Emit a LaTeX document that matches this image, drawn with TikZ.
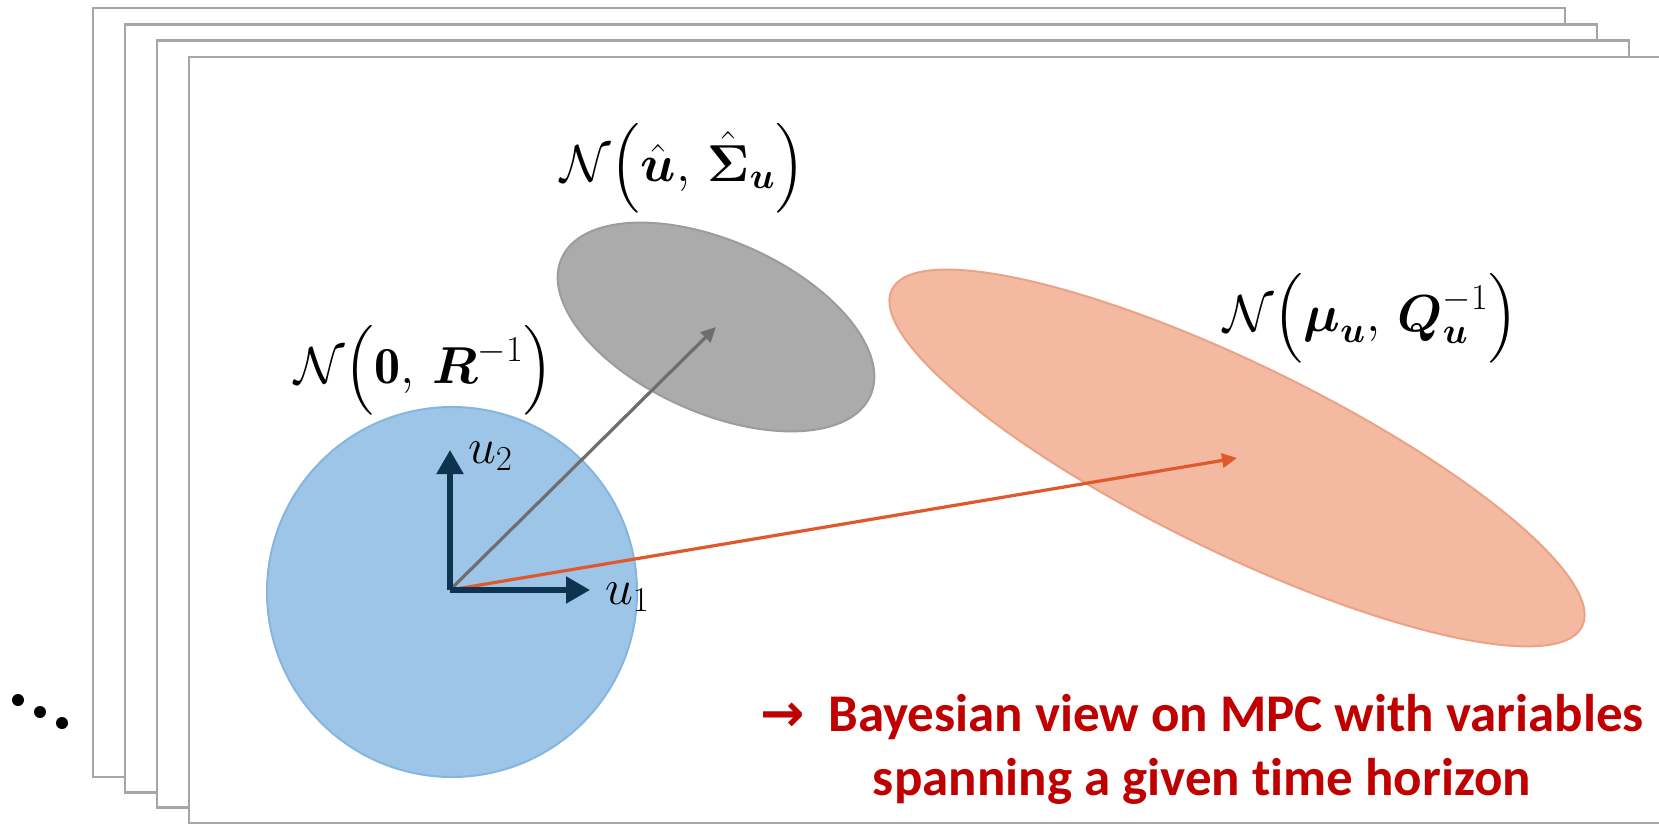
\RequirePackage{fix-cm}
\documentclass[tikz,border=0pt]{standalone}
\usepackage{amsmath}
\usepackage{fontspec}
\setsansfont{Carlito}[Ligatures=NoCommon]
\newfontfamily\arrowfont{DejaVu Sans}
\usetikzlibrary{arrows.meta}
\definecolor{cframe}{HTML}{A6A6A6}
\definecolor{cblue}{HTML}{9DC5E7}
\definecolor{cblueedge}{HTML}{86B6DE}
\definecolor{cgrey}{HTML}{ABABAB}
\definecolor{cgreyedge}{HTML}{9C9C9C}
\definecolor{corange}{HTML}{F3B9A1}
\definecolor{corangeedge}{HTML}{EAA386}
\definecolor{cnavy}{HTML}{0E3350}
\definecolor{cred}{HTML}{C00000}
\definecolor{cdarkgrey}{HTML}{6E6E6E}
\definecolor{cdarkorange}{HTML}{E0592C}
\tikzset{
  slide/.style={draw=cframe, fill=white, line width=1.3pt},
  axis/.style={-{Triangle[length=12pt, width=13pt]}, draw=cnavy, line width=2.6pt},
  meanarrow/.style={-{Triangle[length=7.5pt, width=7pt]}, draw=#1, line width=1.6pt},
  dist/.style={font=\fontsize{26}{30}\selectfont},
  axislabel/.style={font=\fontsize{25}{30}\selectfont, anchor=west},
  takeaway/.style={font=\fontsize{26.5}{32}\selectfont\sffamily\bfseries, text=cred, align=center},
}

\begin{document}
\begin{tikzpicture}[x=0.5pt, y=-0.5pt]
  \useasboundingbox (0,0) rectangle (1659,824);
  \clip (0,0) rectangle (1659,824);
  \foreach \i in {0,...,3}
    \draw[slide] ({93+32*\i},{8+16.3*\i}) rectangle ({1565+32*\i},{777+15.3*\i});
  \foreach \x/\y in {18/700, 40/712, 62/723}
    \fill (\x,\y) circle (6);

  \coordinate (o) at (450,590);
  \coordinate (uhat) at (716,327);
  \coordinate (mu) at (1237,458);
  \coordinate (e1) at (590,590);
  \coordinate (e2) at (450,450);

  \draw[fill=cblue, draw=cblueedge, line width=1pt] (452,592) circle (185);
  \draw[fill=cgrey, draw=cgreyedge, line width=1pt, rotate around={-24:(uhat)}]
    (uhat) ellipse [x radius=169, y radius=86];
  \draw[fill=corange, draw=corangeedge, line width=1pt, rotate around={-26:(mu)}]
    (mu) ellipse [x radius=384, y radius=94];

  \draw[meanarrow=cdarkgrey] (o) -- (uhat);
  \draw[meanarrow=cdarkorange] (o) -- (mu);
  \draw[axis] (o) -- (e1);
  \draw[axis] (o) -- (e2);

  \node[axislabel] (u1) at (598,597) {$u_1$};
  \node[axislabel] (u2) at (461,456) {$u_2$};
  \node[dist] (prior) at (424,370) {$\mathcal{N}\Bigl(\mathbf{0},\,\boldsymbol{R}^{-1}\Bigr)$};
  \node[dist] (post) at (683,168) {$\mathcal{N}\Bigl(\hat{\boldsymbol{u}},\,\hat{\boldsymbol{\Sigma}}_{\boldsymbol{u}}\Bigr)$};
  \node[dist] (mpc) at (1371,318) {$\mathcal{N}\Bigl(\boldsymbol{\mu}_{\boldsymbol{u}},\,\boldsymbol{Q}_{\boldsymbol{u}}^{-1}\Bigr)$};

  \node[takeaway] (note) at (1202,749) {{\arrowfont →}\hspace{0.45em}Bayesian view on MPC with variables\\spanning a given time horizon};
\end{tikzpicture}
\end{document}
